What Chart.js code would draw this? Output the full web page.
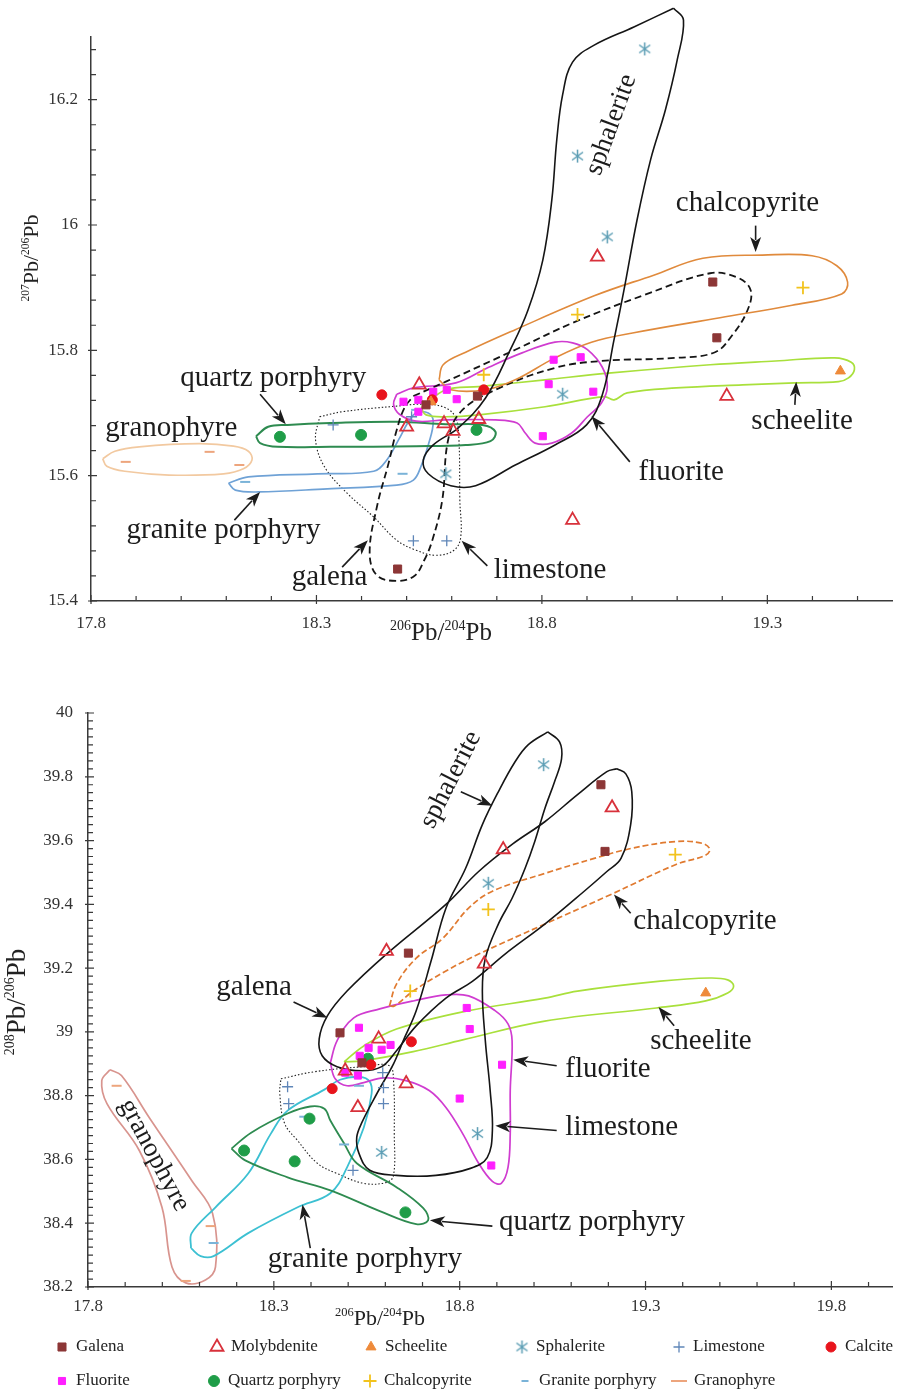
<!DOCTYPE html>
<html>
<head>
<meta charset="utf-8">
<script src="https://cdn.jsdelivr.net/npm/chart.js@4.4.0/dist/chart.umd.min.js"></script>
<style>
  body { margin: 0; background: #fff; }
  canvas { position: absolute; left: 0; }
  #topChart { top: 0; }
  #bottomChart { top: 650px; }
</style>
</head>
<body>
<canvas id="topChart" width="902" height="650"></canvas>
<canvas id="bottomChart" width="902" height="740"></canvas>
<script>
const serif = '"Liberation Serif", "Times New Roman", serif';
Chart.defaults.font.family = serif;

// ---------- upper diagram: 207Pb/204Pb vs 206Pb/204Pb ----------
const topXTicks = [17.8, 18.3, 18.8, 19.3];
const topYTicks = [15.4, 15.6, 15.8, 16, 16.2];

const topGalena = [[19.179,15.909],[19.188,15.820],[18.480,15.451],[18.657,15.727],[18.543,15.713]];
const topMolybdenite = [[18.923,15.949],[19.210,15.727],[18.868,15.529],[18.528,15.745],[18.500,15.678],[18.583,15.683],[18.603,15.671],[18.660,15.690]];
const topScheelite = [[19.462,15.767],[18.554,15.718]];
const topSphalerite = [[19.028,16.281],[18.879,16.110],[18.945,15.981],[18.846,15.730],[18.587,15.603]];
const topLimestone = [[18.337,15.681],[18.515,15.496],[18.589,15.496],[18.511,15.694]];
const topCalcite = [[18.445,15.729],[18.557,15.721],[18.671,15.737]];
const topFluorite = [[18.826,15.785],[18.886,15.789],[18.815,15.746],[18.914,15.734],[18.802,15.663],[18.611,15.722],[18.589,15.737],[18.493,15.718],[18.526,15.721],[18.559,15.734],[18.526,15.702]];
const topQuartz = [[18.219,15.662],[18.399,15.665],[18.655,15.673]];
const topChalcopyrite = [[19.379,15.900],[18.879,15.857],[18.671,15.761]];
const topGranite = [[18.142,15.590],[18.491,15.603],[18.521,15.705]];
const topGranophyre = [[17.877,15.622],[18.063,15.638],[18.129,15.617]];

// field outlines (upper)
const topSphaleriteField = [[19.092,16.346],[19.114,16.327],[19.100,16.263],[19.074,16.184],[19.041,16.104],[19.011,16.008],[18.982,15.896],[18.960,15.817],[18.934,15.729],[18.899,15.681],[18.829,15.649],[18.741,15.617],[18.653,15.584],[18.598,15.584],[18.548,15.603],[18.537,15.625],[18.559,15.649],[18.614,15.676],[18.675,15.724],[18.730,15.801],[18.769,15.864],[18.802,15.944],[18.822,16.040],[18.833,16.136],[18.846,16.208],[18.868,16.260],[18.916,16.287],[19.004,16.316]];
const topChalcopyriteField = [[18.572,15.753],[18.581,15.777],[18.631,15.797],[18.741,15.833],[18.916,15.887],[19.048,15.920],[19.157,15.947],[19.289,15.952],[19.399,15.951],[19.454,15.935],[19.478,15.909],[19.465,15.890],[19.355,15.872],[19.195,15.852],[19.004,15.828],[18.910,15.813],[18.829,15.788],[18.741,15.753],[18.675,15.737],[18.598,15.737]];
const topGalenaField = [[18.515,15.727],[18.587,15.750],[18.741,15.801],[18.872,15.845],[19.026,15.888],[19.173,15.923],[19.234,15.916],[19.263,15.896],[19.256,15.864],[19.223,15.825],[19.184,15.797],[19.098,15.788],[18.932,15.783],[18.829,15.772],[18.697,15.737],[18.620,15.702],[18.592,15.657],[18.579,15.561],[18.557,15.497],[18.539,15.465],[18.517,15.440],[18.478,15.432],[18.434,15.441],[18.418,15.477],[18.434,15.550],[18.460,15.620],[18.478,15.673],[18.495,15.708]];
const topFluoriteField = [[18.478,15.730],[18.515,15.740],[18.609,15.748],[18.682,15.773],[18.756,15.796],[18.829,15.813],[18.868,15.812],[18.901,15.801],[18.934,15.773],[18.945,15.742],[18.932,15.716],[18.901,15.694],[18.866,15.668],[18.822,15.652],[18.785,15.652],[18.763,15.668],[18.745,15.684],[18.697,15.689],[18.587,15.689],[18.521,15.687],[18.484,15.698],[18.471,15.714]];
const topScheeliteField = [[18.532,15.708],[18.587,15.737],[18.660,15.742],[18.807,15.753],[18.954,15.764],[19.173,15.777],[19.318,15.783],[19.449,15.788],[19.486,15.781],[19.493,15.769],[19.480,15.756],[19.458,15.750],[19.361,15.748],[19.245,15.745],[19.098,15.740],[18.989,15.732],[18.960,15.721],[18.938,15.726],[18.807,15.710],[18.660,15.697],[18.587,15.694],[18.543,15.697]];
const topQuartzField = [[18.166,15.663],[18.193,15.678],[18.236,15.681],[18.331,15.684],[18.478,15.686],[18.587,15.682],[18.668,15.681],[18.697,15.670],[18.686,15.655],[18.631,15.649],[18.521,15.647],[18.331,15.646],[18.214,15.646],[18.175,15.652]];
const topGraniteField = [[18.105,15.588],[18.149,15.598],[18.302,15.603],[18.427,15.607],[18.456,15.625],[18.482,15.657],[18.504,15.686],[18.521,15.700],[18.548,15.700],[18.559,15.686],[18.548,15.649],[18.532,15.615],[18.515,15.593],[18.478,15.585],[18.324,15.579],[18.171,15.574],[18.120,15.577]];
const topGranophyreField = [[17.826,15.627],[17.853,15.639],[17.907,15.646],[18.039,15.651],[18.116,15.647],[18.149,15.639],[18.157,15.625],[18.138,15.611],[18.094,15.603],[17.973,15.601],[17.875,15.607],[17.835,15.615]];
const topLimestoneField = [[18.307,15.694],[18.357,15.702],[18.478,15.711],[18.543,15.714],[18.587,15.708],[18.609,15.692],[18.616,15.657],[18.618,15.561],[18.620,15.502],[18.605,15.481],[18.565,15.473],[18.521,15.481],[18.478,15.497],[18.427,15.534],[18.368,15.572],[18.318,15.614],[18.298,15.657]];

const topNotes = [
  { t: 'sphalerite', x: 18.954, y: 16.160, rot: -70 },
  { t: 'chalcopyrite', x: 19.256, y: 16.035, arrow: [19.274, 15.999, 19.274, 15.957] },
  { t: 'quartz porphyry', x: 18.204, y: 15.756, arrow: [18.175, 15.730, 18.232, 15.682] },
  { t: 'granophyre', x: 17.978, y: 15.676 },
  { t: 'granite porphyry', x: 18.094, y: 15.513, arrow: [18.118, 15.529, 18.175, 15.574] },
  { t: 'galena', x: 18.329, y: 15.437, arrow: [18.357, 15.454, 18.414, 15.497] },
  { t: 'limestone', x: 18.818, y: 15.449, arrow: [18.679, 15.456, 18.622, 15.496] },
  { t: 'fluorite', x: 19.109, y: 15.606, arrow: [18.995, 15.622, 18.910, 15.695] },
  { t: 'scheelite', x: 19.377, y: 15.686, arrow: [19.361, 15.713, 19.364, 15.750] }
];

// ---------- lower diagram: 208Pb/204Pb vs 206Pb/204Pb ----------
const botXTicks = [17.8, 18.3, 18.8, 19.3, 19.8];
const botYTicks = [38.2, 38.4, 38.6, 38.8, 39, 39.2, 39.4, 39.6, 39.8, 40];

const botGalena = [[19.180,39.775],[19.191,39.566],[18.662,39.247],[18.478,38.997],[18.537,38.903]];
const botMolybdenite = [[19.210,39.703],[18.917,39.572],[18.866,39.213],[18.603,39.253],[18.582,38.978],[18.656,38.838],[18.526,38.763],[18.492,38.878]];
const botScheelite = [[19.462,39.122]];
const botSphalerite = [[19.026,39.838],[18.877,39.466],[18.848,38.681],[18.590,38.622]];
const botLimestone = [[18.337,38.828],[18.340,38.775],[18.513,38.566],[18.593,38.872],[18.595,38.825],[18.595,38.775]];
const botCalcite = [[18.457,38.822],[18.670,38.969],[18.561,38.897]];
const botFluorite = [[18.819,39.075],[18.827,39.009],[18.914,38.897],[18.800,38.791],[18.885,38.581],[18.529,39.013],[18.555,38.950],[18.590,38.944],[18.614,38.959],[18.531,38.925],[18.492,38.872],[18.526,38.863]];
const botQuartz = [[18.220,38.628],[18.356,38.594],[18.396,38.728],[18.654,38.434],[18.553,38.916]];
const botChalcopyrite = [[19.380,39.556],[18.877,39.384],[18.667,39.128]];
const botGranite = [[18.382,38.734],[18.489,38.647],[18.138,38.338],[18.529,38.831]];
const botGranophyre = [[17.877,38.831],[18.130,38.391],[18.063,38.219]];

// field outlines (lower)
const botGranophyreField = [[17.859,38.881],[17.837,38.847],[17.851,38.775],[17.938,38.628],[17.999,38.450],[18.026,38.263],[18.063,38.213],[18.116,38.222],[18.143,38.263],[18.135,38.431],[18.079,38.534],[17.965,38.731],[17.890,38.863]];
const botGraniteField = [[18.077,38.322],[18.103,38.297],[18.138,38.297],[18.231,38.369],[18.364,38.450],[18.452,38.494],[18.497,38.575],[18.542,38.700],[18.563,38.806],[18.558,38.844],[18.531,38.859],[18.478,38.850],[18.436,38.819],[18.337,38.753],[18.292,38.681],[18.231,38.556],[18.143,38.450],[18.079,38.369]];
const botQuartzField = [[18.186,38.634],[18.239,38.684],[18.337,38.744],[18.398,38.766],[18.436,38.759],[18.452,38.722],[18.489,38.650],[18.523,38.588],[18.630,38.513],[18.702,38.447],[18.715,38.409],[18.683,38.397],[18.585,38.438],[18.452,38.503],[18.337,38.544],[18.223,38.597]];
const botLimestoneField = [[18.319,38.853],[18.409,38.875],[18.542,38.891],[18.611,38.894],[18.622,38.847],[18.624,38.681],[18.622,38.550],[18.603,38.528],[18.542,38.525],[18.470,38.556],[18.417,38.588],[18.364,38.659],[18.329,38.713],[18.316,38.806]];
const botFluoriteField = [[18.452,38.903],[18.470,38.972],[18.515,39.044],[18.585,39.072],[18.675,39.097],[18.763,39.116],[18.824,39.113],[18.896,39.066],[18.930,39.025],[18.941,38.972],[18.936,38.816],[18.936,38.681],[18.930,38.575],[18.912,38.525],[18.888,38.531],[18.851,38.588],[18.808,38.681],[18.763,38.763],[18.718,38.816],[18.656,38.847],[18.595,38.856],[18.542,38.841],[18.497,38.831],[18.465,38.853]];
const botScheeliteField = [[18.489,38.906],[18.542,38.956],[18.630,39.009],[18.808,39.063],[19.029,39.106],[19.117,39.128],[19.340,39.159],[19.473,39.169],[19.521,39.163],[19.537,39.144],[19.521,39.122],[19.462,39.097],[19.329,39.075],[19.029,39.034],[18.808,38.975],[18.675,38.938],[18.537,38.909]];
const botChalcopyriteField = [[18.611,39.081],[18.630,39.150],[18.683,39.231],[18.755,39.294],[18.824,39.388],[18.888,39.441],[19.029,39.497],[19.162,39.544],[19.260,39.575],[19.382,39.597],[19.454,39.591],[19.473,39.572],[19.460,39.553],[19.382,39.525],[19.207,39.431],[19.029,39.338],[18.851,39.244],[18.763,39.191],[18.675,39.128],[18.624,39.081]];
const botGalenaField = [[19.223,39.825],[19.247,39.809],[19.263,39.753],[19.260,39.650],[19.234,39.544],[19.196,39.503],[19.135,39.441],[19.029,39.338],[18.922,39.244],[18.835,39.159],[18.763,39.106],[18.683,39.019],[18.630,38.941],[18.590,38.891],[18.537,38.878],[18.470,38.891],[18.430,38.925],[18.422,38.978],[18.444,39.050],[18.497,39.128],[18.603,39.244],[18.763,39.400],[18.851,39.503],[18.941,39.588],[19.029,39.659],[19.117,39.744],[19.196,39.816]];
const botSphaleriteField = [[19.037,39.941],[19.069,39.909],[19.074,39.856],[19.055,39.784],[19.029,39.700],[19.002,39.597],[18.976,39.513],[18.941,39.419],[18.904,39.338],[18.869,39.231],[18.861,39.128],[18.869,38.972],[18.882,38.816],[18.888,38.691],[18.874,38.606],[18.829,38.572],[18.736,38.550],[18.630,38.550],[18.558,38.566],[18.529,38.619],[18.523,38.669],[18.537,38.716],[18.577,38.806],[18.622,38.900],[18.648,38.972],[18.683,39.066],[18.723,39.222],[18.763,39.388],[18.816,39.513],[18.861,39.650],[18.904,39.753],[18.949,39.847],[18.984,39.900]];

const botNotes = [
  { t: 'sphalerite', x: 18.776, y: 39.791, rot: -63, arrow: [18.803, 39.753, 18.888, 39.709] },
  { t: 'chalcopyrite', x: 19.460, y: 39.347, arrow: [19.260, 39.372, 19.215, 39.431] },
  { t: 'galena', x: 18.247, y: 39.138, arrow: [18.353, 39.094, 18.444, 39.044] },
  { t: 'scheelite', x: 19.449, y: 38.969, arrow: [19.377, 39.019, 19.335, 39.078] },
  { t: 'fluorite', x: 19.199, y: 38.881, arrow: [19.061, 38.894, 18.944, 38.913] },
  { t: 'limestone', x: 19.236, y: 38.700, arrow: [19.061, 38.691, 18.896, 38.706] },
  { t: 'quartz porphyry', x: 19.156, y: 38.403, arrow: [18.888, 38.391, 18.720, 38.409] },
  { t: 'granite porphyry', x: 18.545, y: 38.288, arrow: [18.398, 38.322, 18.377, 38.459] },
  { t: 'granophyre', x: 17.978, y: 38.613, rot: 62 }
];

const legendRow1 = ['Galena', 'Molybdenite', 'Scheelite', 'Sphalerite', 'Limestone', 'Calcite'];
const legendRow2 = ['Fluorite', 'Quartz porphyry', 'Chalcopyrite', 'Granite porphyry', 'Granophyre'];

// ---------- styles ----------
function asterisk(color) {
  const c = document.createElement('canvas');
  c.width = 15; c.height = 15;
  const g = c.getContext('2d');
  g.strokeStyle = color; g.lineWidth = 1.5;
  g.beginPath();
  g.moveTo(7.5, 1); g.lineTo(7.5, 14);
  g.moveTo(2, 3.5); g.lineTo(13, 11.5);
  g.moveTo(2, 11.5); g.lineTo(13, 3.5);
  g.stroke();
  return c;
}

const marker = {
  'Galena': { shape: 'rect', r: 5.7, fill: '#8c3636', color: '#8c3636', w: 1 },
  'Molybdenite': { shape: 'triangle', r: 7.5, fill: 'rgba(255,255,255,0)', color: '#d8313b', w: 1.8 },
  'Scheelite': { shape: 'triangle', r: 5.8, fill: '#ee8a3a', color: '#ee8a3a', w: 1 },
  'Sphalerite': { shape: asterisk('#5b9db4'), r: 7, fill: '#5b9db4', color: '#5b9db4', w: 1.5 },
  'Limestone': { shape: 'cross', r: 5.5, fill: '#5f86b8', color: '#5f86b8', w: 1.3 },
  'Calcite': { shape: 'circle', r: 5, fill: '#e8141c', color: '#e8141c', w: 1 },
  'Fluorite': { shape: 'rect', r: 5, fill: '#ff1fff', color: '#ff1fff', w: 1 },
  'Quartz porphyry': { shape: 'circle', r: 5.5, fill: '#1f9d48', color: '#1f9d48', w: 1 },
  'Chalcopyrite': { shape: 'cross', r: 6.5, fill: '#f2c31d', color: '#f2c31d', w: 1.8 },
  'Granite porphyry': { shape: 'line', r: 5, fill: '#7ab3d8', color: '#7ab3d8', w: 2 },
  'Granophyre': { shape: 'line', r: 5, fill: '#eda57d', color: '#eda57d', w: 2 }
};

function marks(pts, name) {
  const s = marker[name];
  return {
    label: name, data: pts.map(([x, y]) => ({ x, y })), showLine: false, order: 0, clip: false,
    pointStyle: s.shape, pointRadius: s.r, pointHoverRadius: s.r,
    pointBackgroundColor: s.fill, pointBorderColor: s.color, pointBorderWidth: s.w
  };
}

function outline(pts, color, width, dash) {
  const ring = pts.concat([pts[0]]).map(([x, y]) => ({ x, y }));
  return {
    data: ring, showLine: true, order: 1, clip: false, pointRadius: 0, pointHoverRadius: 0,
    borderColor: color, borderWidth: width, borderDash: dash || [], tension: 0.38,
    fill: false, capBezierPoints: false
  };
}

function stepValues(from, to, step) {
  const out = [];
  const n = Math.round((to - from) / step);
  for (let i = 0; i <= n; i++) out.push(+(from + i * step).toFixed(4));
  return out;
}

function arrow(ctx, x1, y1, x2, y2) {
  const a = Math.atan2(y2 - y1, x2 - x1), L = 15, W = 5.5;
  const c = Math.cos(a), s = Math.sin(a);
  const bx = x2 - L * c, by = y2 - L * s;
  ctx.lineWidth = 1.6;
  ctx.beginPath(); ctx.moveTo(x1, y1); ctx.lineTo(bx + 3 * c, by + 3 * s); ctx.stroke();
  ctx.beginPath();
  ctx.moveTo(x2, y2);
  ctx.lineTo(bx - W * s, by + W * c);
  ctx.lineTo(bx + 4 * c, by + 4 * s);
  ctx.lineTo(bx + W * s, by - W * c);
  ctx.closePath(); ctx.fill();
}

function isoTitle(ctx, parts, cx, cy, rot, big, small) {
  ctx.save();
  ctx.translate(cx, cy); ctx.rotate(rot * Math.PI / 180);
  let w = 0;
  parts.forEach(p => { ctx.font = (p.sup ? small : big) + 'px ' + serif; p.w = ctx.measureText(p.t).width; w += p.w; });
  let x = -w / 2;
  ctx.textAlign = 'left'; ctx.textBaseline = 'alphabetic';
  parts.forEach(p => {
    ctx.font = (p.sup ? small : big) + 'px ' + serif;
    ctx.fillText(p.t, x, p.sup ? big * 0.33 - big * 0.42 : big * 0.33);
    x += p.w;
  });
  ctx.restore();
}

function decor(cfg) {
  return {
    id: 'decor',
    afterDatasetsDraw(chart) {
      const { ctx, chartArea: a, scales: { x, y } } = chart;
      ctx.save();
      // inward tick marks
      ctx.strokeStyle = '#3a3a3a'; ctx.lineWidth = 1.2;
      ctx.beginPath();
      cfg.xMinor.forEach(v => { const p = x.getPixelForValue(v); ctx.moveTo(p, a.bottom); ctx.lineTo(p, a.bottom - 5); });
      cfg.xTicks.forEach(v => { const p = x.getPixelForValue(v); ctx.moveTo(p, a.bottom + 3); ctx.lineTo(p, a.bottom - 6); });
      cfg.yMinor.forEach(v => { const p = y.getPixelForValue(v); ctx.moveTo(a.left, p); ctx.lineTo(a.left + 5, p); });
      cfg.yTicks.forEach(v => { const p = y.getPixelForValue(v); ctx.moveTo(a.left - 3, p); ctx.lineTo(a.left + 6, p); });
      ctx.stroke();

      // field labels and arrows
      ctx.fillStyle = '#1c1c1c'; ctx.strokeStyle = '#1c1c1c';
      cfg.notes.forEach(n => {
        ctx.save();
        ctx.translate(x.getPixelForValue(n.x), y.getPixelForValue(n.y));
        if (n.rot) ctx.rotate(n.rot * Math.PI / 180);
        ctx.font = (n.rot ? 27 : 29) + 'px ' + serif;
        ctx.textAlign = 'center'; ctx.textBaseline = 'middle';
        ctx.fillText(n.t, 0, 0);
        ctx.restore();
        if (n.arrow) {
          const [x1, y1, x2, y2] = n.arrow;
          arrow(ctx, x.getPixelForValue(x1), y.getPixelForValue(y1), x.getPixelForValue(x2), y.getPixelForValue(y2));
        }
      });

      // axis titles
      ctx.fillStyle = '#222';
      isoTitle(ctx, cfg.xTitle, cfg.xTitlePos[0], a.bottom + cfg.xTitlePos[1], 0, cfg.xTitleSize[0], cfg.xTitleSize[1]);
      isoTitle(ctx, cfg.yTitle, cfg.yTitlePos[0], cfg.yTitlePos[1], -90, cfg.yTitleSize[0], cfg.yTitleSize[1]);

      // legend
      if (cfg.legend) {
        const rows = [[legendRow1, [62, 217, 371, 522, 679, 831], a.bottom + 60],
                      [legendRow2, [62, 214, 370, 525, 679], a.bottom + 94]];
        ctx.font = '17px ' + serif; ctx.textAlign = 'left'; ctx.textBaseline = 'middle';
        rows.forEach(([names, xs, yy]) => {
          names.forEach((name, i) => {
            const s = marker[name];
            ctx.fillStyle = s.fill; ctx.strokeStyle = s.color; ctx.lineWidth = s.w;
            const r = name === 'Granophyre' ? 8 : (name === 'Granite porphyry' ? 3.5 : s.r);
            Chart.helpers.drawPoint(ctx, { pointStyle: s.shape, radius: r, rotation: 0, borderWidth: s.w }, xs[i], yy);
            ctx.fillStyle = '#222';
            ctx.fillText(name, xs[i] + (name === 'Granophyre' ? 15 : 14), yy);
          });
        });
      }
      ctx.restore();
    }
  };
}

function scales(o) {
  return {
    x: {
      type: 'linear', min: o.xMin, max: o.xMax,
      afterBuildTicks: s => { s.ticks = o.xTicks.map(v => ({ value: v })); },
      afterFit: s => { s.height = o.xHeight; },
      ticks: { autoSkip: false, maxRotation: 0, padding: o.xPad, color: '#333', font: { size: 17 }, callback: v => String(v) },
      grid: { display: false, drawTicks: false },
      border: { display: true, color: '#3a3a3a', width: 1.5 }
    },
    y: {
      type: 'linear', min: o.yMin, max: o.yMax,
      afterBuildTicks: s => { s.ticks = o.yTicks.map(v => ({ value: v })); },
      afterFit: s => { s.width = o.yWidth; },
      ticks: { autoSkip: false, padding: o.yPad, color: '#333', font: { size: 17 }, callback: v => String(v) },
      grid: { display: false, drawTicks: false },
      border: { display: true, color: '#3a3a3a', width: 1.5 }
    }
  };
}

const baseOptions = (pad, sc) => ({
  responsive: false, animation: false, events: [], devicePixelRatio: 1,
  layout: { padding: pad },
  elements: { line: { capBezierPoints: false } },
  plugins: { legend: { display: false }, tooltip: { enabled: false } },
  scales: sc
});

// ---------- upper chart ----------
new Chart(document.getElementById('topChart'), {
  type: 'scatter',
  data: {
    datasets: [
      marks(topGalena, 'Galena'), marks(topMolybdenite, 'Molybdenite'), marks(topScheelite, 'Scheelite'),
      marks(topSphalerite, 'Sphalerite'), marks(topLimestone, 'Limestone'), marks(topCalcite, 'Calcite'),
      marks(topFluorite, 'Fluorite'), marks(topQuartz, 'Quartz porphyry'), marks(topChalcopyrite, 'Chalcopyrite'),
      marks(topGranite, 'Granite porphyry'), marks(topGranophyre, 'Granophyre'),
      outline(topSphaleriteField, '#151515', 1.6),
      outline(topChalcopyriteField, '#e08a3c', 1.6),
      outline(topGalenaField, '#151515', 1.8, [7, 4]),
      outline(topFluoriteField, '#d03cd0', 1.7),
      outline(topScheeliteField, '#a9e03c', 1.7),
      outline(topQuartzField, '#2e8b50', 2),
      outline(topGraniteField, '#6fa2d6', 1.7),
      outline(topGranophyreField, '#f2c9a0', 1.7),
      outline(topLimestoneField, '#222', 1.1, [1.5, 2])
    ]
  },
  options: baseOptions({ top: 37, right: 0, left: 0, bottom: 0 },
    scales({ xMin: 17.8, xMax: 19.578, xTicks: topXTicks, xHeight: 49, xPad: 12,
             yMin: 15.4, yMax: 16.3, yTicks: topYTicks, yWidth: 91, yPad: 13 })),
  plugins: [decor({
    notes: topNotes, xTicks: topXTicks, yTicks: topYTicks,
    xMinor: stepValues(17.8, 19.5, 0.1), yMinor: stepValues(15.4, 16.28, 0.04),
    xTitle: [{ t: '206', sup: 1 }, { t: 'Pb/' }, { t: '204', sup: 1 }, { t: 'Pb' }],
    xTitlePos: [441, 31], xTitleSize: [25, 14],
    yTitle: [{ t: '207', sup: 1 }, { t: 'Pb/' }, { t: '206', sup: 1 }, { t: 'Pb' }],
    yTitlePos: [31, 258], yTitleSize: [22, 11.5]
  })]
});

// ---------- lower chart ----------
new Chart(document.getElementById('bottomChart'), {
  type: 'scatter',
  data: {
    datasets: [
      marks(botGalena, 'Galena'), marks(botMolybdenite, 'Molybdenite'), marks(botScheelite, 'Scheelite'),
      marks(botSphalerite, 'Sphalerite'), marks(botLimestone, 'Limestone'), marks(botCalcite, 'Calcite'),
      marks(botFluorite, 'Fluorite'), marks(botQuartz, 'Quartz porphyry'), marks(botChalcopyrite, 'Chalcopyrite'),
      marks(botGranite, 'Granite porphyry'), marks(botGranophyre, 'Granophyre'),
      outline(botSphaleriteField, '#151515', 1.6),
      outline(botGalenaField, '#151515', 1.6),
      outline(botChalcopyriteField, '#e07a30', 1.7, [6, 3]),
      outline(botFluoriteField, '#d03cd0', 1.7),
      outline(botScheeliteField, '#a9e03c', 1.7),
      outline(botQuartzField, '#2e8b50', 1.8),
      outline(botGraniteField, '#3cc0d2', 1.8),
      outline(botGranophyreField, '#d8948e', 1.7),
      outline(botLimestoneField, '#222', 1.1, [1.5, 2])
    ]
  },
  options: baseOptions({ top: 63, right: 0, left: 0, bottom: 63 },
    scales({ xMin: 17.8, xMax: 19.965, xTicks: botXTicks, xHeight: 40, xPad: 9,
             yMin: 38.2, yMax: 40, yTicks: botYTicks, yWidth: 88, yPad: 15 })),
  plugins: [decor({
    notes: botNotes, xTicks: botXTicks, yTicks: botYTicks, legend: true,
    xMinor: stepValues(17.8, 19.9, 0.1), yMinor: stepValues(38.2, 40, 0.025),
    xTitle: [{ t: '206', sup: 1 }, { t: 'Pb/' }, { t: '204', sup: 1 }, { t: 'Pb' }],
    xTitlePos: [380, 31], xTitleSize: [22, 12.5],
    yTitle: [{ t: '208', sup: 1 }, { t: 'Pb/' }, { t: '206', sup: 1 }, { t: 'Pb' }],
    yTitlePos: [16, 352], yTitleSize: [27, 14]
  })]
});
</script>
</body>
</html>
